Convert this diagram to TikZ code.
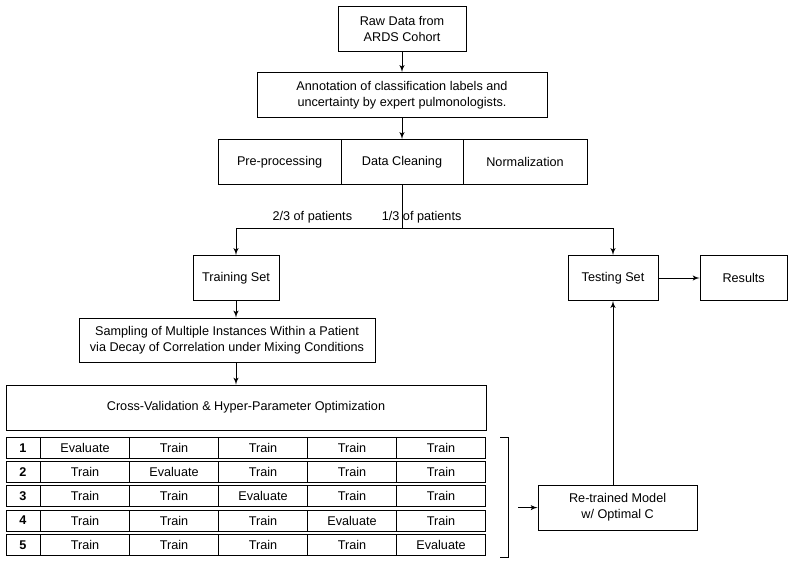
\documentclass[tikz,border=0pt]{standalone}
\usepackage{fontspec}
\setmainfont{Liberation Sans}
\usetikzlibrary{arrows}

\begin{document}
\begin{tikzpicture}[>=latex', line width=0.7pt]

\tikzset{
    step box/.style={
        draw, rectangle, align=center,
        minimum width=#1, minimum height=1.125cm,
        inner sep=2pt, font=\fontsize{9}{11.5}\selectfont
    },
    fold cell/.style={
        draw, rectangle,
        minimum width=#1, minimum height=0.525cm,
        inner sep=0pt, font=\fontsize{9}{10}\selectfont
    },
    flow/.style={->, draw}
}

% Canvas
\useasboundingbox (0,0) rectangle (20,-14.475);

% --- DATA PREPARATION ---
\node[step box=3.2cm] (raw) at (10.05,-0.725) {Raw Data from\\ARDS Cohort};
\node[step box=7.25cm] (annot) at (10.05,-2.375) {Annotation of classification labels and\\uncertainty by expert pulmonologists.};
\node[step box=3.075cm] (prep) at (6.99,-4.05) {Pre-processing};
\node[step box=3.05cm] (clean) at (10.05,-4.05) {Data Cleaning};
\node[step box=3.1cm] (norm) at (13.125,-4.05) {Normalization};

\draw[flow] (raw) -- (annot);
\draw[flow] (annot) -- (clean);

% --- SPLIT ---
\coordinate (split) at (10.05,-5.7);
\node[step box=2.15cm] (train) at (5.9,-6.95) {Training Set};
\node[step box=2.25cm] (test) at (15.325,-6.95) {Testing Set};
\node[step box=2.175cm] (results) at (18.59,-6.95) {Results};

\draw (clean) -- (split);
\draw[flow] (split) -| (train);
\draw[flow] (split) -| (test);
\draw[flow] (test) -- (results);

\node[anchor=south east, inner sep=1pt, font=\fontsize{9}{10}\selectfont] (twothirds) at (8.85,-5.62) {2/3 of patients};
\node[anchor=south west, inner sep=1pt, font=\fontsize{9}{10}\selectfont] (onethird) at (9.5,-5.62) {1/3 of patients};

% --- TRAINING BRANCH ---
\node[step box=7.4cm, minimum height=1.1cm] (sampling) at (5.675,-8.5) {Sampling of Multiple Instances Within a Patient\\via Decay of Correlation under Mixing Conditions};
\node[step box=12cm] (cv) at (6.15,-10.19) {Cross-Validation \& Hyper-Parameter Optimization};

\draw[flow] (train) -- (train |- sampling.north);
\draw[flow] (train |- sampling.south) -- (train |- cv.north);

% Folds
\foreach \r in {1,...,5}{
    \node[fold cell=0.85cm, font=\fontsize{9}{10}\selectfont\bfseries] (fold\r-n) at (0.575,{-11.2-(\r-1)*0.605}) {\r};
    \foreach \c in {1,...,5}{
        \ifnum\c=\r
            \node[fold cell=2.225cm] (fold\r-c\c) at ({-0.1+\c*2.225},{-11.2-(\r-1)*0.605}) {Evaluate};
        \else
            \node[fold cell=2.225cm] (fold\r-c\c) at ({-0.1+\c*2.225},{-11.2-(\r-1)*0.605}) {Train};
        \fi
    }
}

% Bracket
\draw (12.5,-10.925) -- (12.7,-10.925) -- (12.7,-13.925) -- (12.5,-13.925);

% --- RE-TRAINING ---
\node[step box=3.975cm] (retrain) at (15.44,-12.69) {Re-trained Model\\w/ Optimal C};
\coordinate (brk) at (12.95,-12.69);

\draw[flow] (brk) -- (retrain);
\draw[flow] (retrain.north -| test) -- (test);

\end{tikzpicture}
\end{document}
